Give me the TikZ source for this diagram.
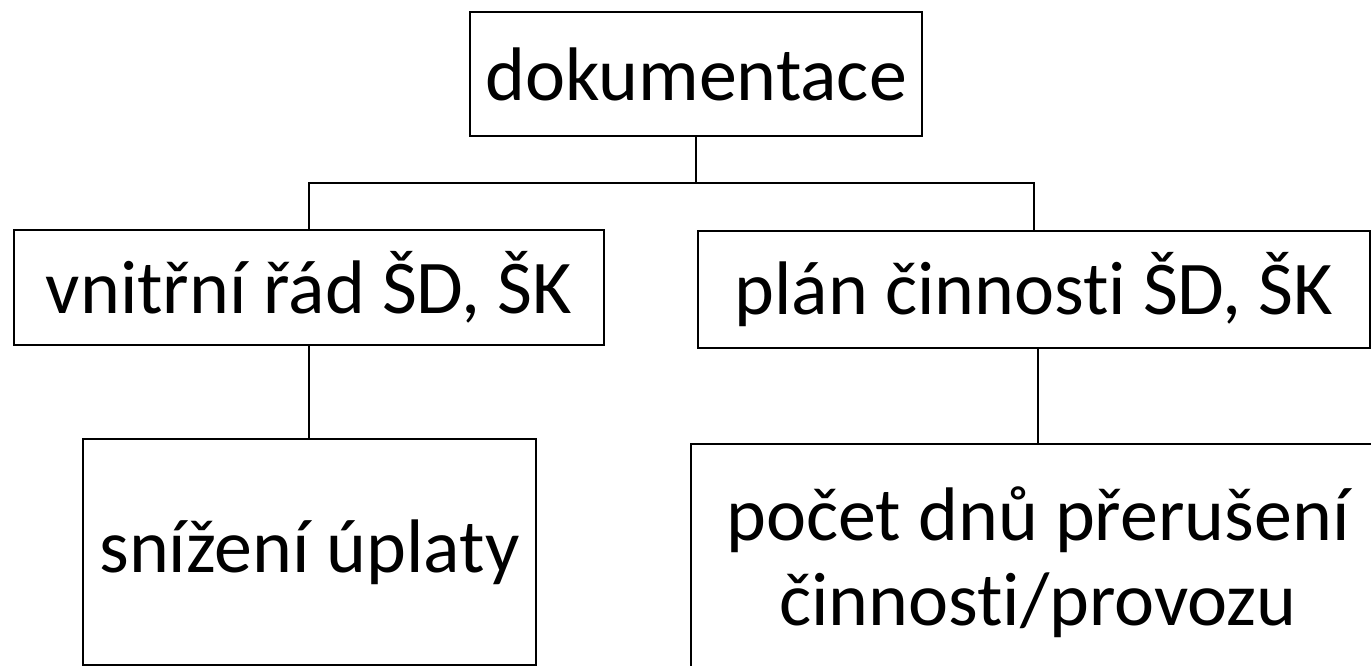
\documentclass[tikz,border=0pt]{standalone}
\usepackage{fontspec}
\setmainfont{Carlito}
\usepackage{tikz}
\usetikzlibrary{positioning}

% keep t and i apart (no ligature)
\newcommand{\tI}{t\kern0pt i}

\tikzset{
  box/.style={draw, line width=1.2pt, inner sep=0pt, align=center,
    font=\fontsize{43.2}{48.4}\selectfont},
  link/.style={line width=1.2pt}
}

\begin{document}
\begin{tikzpicture}[scale=1]
\useasboundingbox (0,0) rectangle (27.42,-13.32);

%top
\node [box, minimum width=9.04cm, minimum height=2.48cm] (doc) at (13.92,-1.48) {dokumentace};

%second row
\node [box, minimum width=11.8cm, minimum height=2.3cm] (rad) at (6.18,-5.75) {vnitřní řád ŠD, ŠK};
\node [box, minimum width=13.44cm, minimum height=2.34cm] (plan) at (20.68,-5.79) {plán činnos\tI{} ŠD, ŠK};

%bottom row
\node [box, minimum width=9.06cm, minimum height=4.52cm] (uplata) at (6.19,-11.04) {snížení úplaty};
\node [box, minimum width=13.88cm, minimum height=4.72cm] (dny) at (20.76,-11.24) {počet dnů přerušení\\činnos\tI/provozu};

%links
\coordinate (bar) at (13.92,-3.66);
\draw [link] (doc.south) -- (bar);
\draw [link] (rad.north) |- (bar) -| (plan.north);
\draw [link] (rad.south) -- (rad.south |- uplata.north);
\draw [link] (dny.north |- plan.south) -- (dny.north);
\end{tikzpicture}
\end{document}
